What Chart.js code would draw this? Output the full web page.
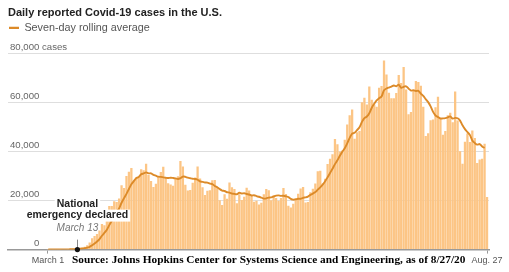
<!DOCTYPE html>
<html><head><meta charset="utf-8">
<script src="https://cdn.jsdelivr.net/npm/chart.js@4"></script>
<style>html,body{margin:0;padding:0;background:#fff}#wrap{width:509px;height:272px;position:relative}</style>
</head><body><div id="wrap"><canvas id="c" width="509" height="272"></canvas></div>
<script>
const chartTitle = 'Daily reported Covid-19 cases in the U.S.';
const legendLabel = 'Seven-day rolling average';
const sourceNote = 'Source: Johns Hopkins Center for Systems Science and Engineering, as of 8/27/20';
const startDay = [2020, 2, 1];

const dailyCases = [
  10,20,20,30,70,50,140,120,70,380,320,380,520,550,770,1130,1790,2900,4600,5600,6400,7800,10500,9900,12000,17800,17800,19800,19400,20900,26300,
  25200,30100,31800,33300,28200,29600,29600,32800,32400,35100,30500,28000,25600,26900,30100,31700,33900,29400,27100,26600,26100,28800,30000,36200,34000,26500,24100,24400,27300,29500,
  34000,29100,25500,22300,24000,24300,28300,28400,25600,20200,18200,22600,20800,27400,25500,24800,18900,22600,20300,21600,25300,24100,22100,19600,20000,18400,19100,22600,24800,24300,20200,
  22200,21100,20000,21100,25200,22700,17900,17200,18700,21000,22800,25000,25600,19200,19400,23400,24900,27000,32000,32200,27000,29000,35000,37100,39000,45200,43000,40100,40500,44900,
  51100,54900,57200,45300,48000,48500,60200,62100,59300,66600,61200,59300,58400,66100,66900,77300,71500,64100,61800,61800,64000,71300,68100,74600,65400,55300,56200,65100,68900,68500,67000,
  58400,46400,47500,52900,53200,58200,62500,54000,46900,48500,54900,55900,52000,64600,52800,40200,35100,44100,47400,44000,48700,45600,35400,36800,37100,43300,21500
];

const rollingAvg = [
  10,15,17,20,30,33,49,64,71,123,164,209,276,334,427,579,780,1149,1751,2477,3313,4317,5656,6814,8114,10000,11743,13657,15314,16800,19143,
  21029,22786,24786,26714,27971,29214,29686,30771,31100,31571,31171,31143,30571,30186,29800,29700,29529,29371,29243,29386,29271,29086,28843,29171,29829,29743,29386,29143,28929,28857,
  28543,27843,27700,27443,27386,26957,26786,25986,25486,24729,24143,23943,23443,23314,22900,22786,22600,23229,22900,23014,22714,22514,22129,22229,21857,21586,21229,20843,20943,21257,21343,
  21657,22043,22171,21957,22014,21786,21457,20743,20400,20543,20786,20757,21171,21357,21671,22343,22900,23500,24500,25443,26557,27929,29586,31329,33043,34929,36471,38343,39986,41400,
  43400,45671,47386,47714,48843,49986,52171,53743,54371,55714,57986,59600,61014,61857,62543,65114,65814,66229,66586,67071,66771,67400,66086,66529,66714,65786,64986,65143,64800,64857,63771,
  62771,61500,60257,58514,56271,54800,54157,53529,53600,53743,54029,54414,53529,53829,53657,52700,50786,49243,48029,46886,44614,43586,42900,43143,42143,41557,null
];

const yTickValues = [0, 20000, 40000, 60000, 80000];
const yTickLabels = ['0', '20,000', '40,000', '60,000', '80,000'];
const yUnit = 'cases';
const xTickIndex = [0, 179];
const xTickLabels = ['March 1', 'Aug. 27'];
const emergencyIndex = 12;
const emergencyLines = ['National', 'emergency declared'];
const emergencyDate = 'March 13';

const days = dailyCases.map((_, i) => new Date(Date.UTC(startDay[0], startDay[1], startDay[2] + i)).toISOString().slice(0, 10));

const barColor = '#fcc585';
const lineColor = '#dc8a28';
const sans = '"Liberation Sans", Arial, sans-serif';
Chart.defaults.font.family = sans;

const Y_TICK_FONT = 9.6;
const Y_LABEL_OFFSET = -6;

const annot = {
  id: 'annot',
  afterDraw(chart) {
    const {ctx, scales: {x, y}} = chart;
    ctx.save();
    ctx.font = Y_TICK_FONT + 'px ' + sans;
    const widest = Math.max(...yTickLabels.map(t => ctx.measureText(t).width));
    const xr = y.right + y.options.ticks.padding + widest;
    const topVal = yTickValues[yTickValues.length - 1];
    ctx.fillStyle = '#666';
    ctx.textAlign = 'left';
    ctx.textBaseline = 'middle';
    ctx.fillText(' ' + yUnit, xr, y.getPixelForValue(topVal) + Y_LABEL_OFFSET);

    const px = x.getPixelForValue(emergencyIndex);
    const py = y.getPixelForValue(0);
    ctx.strokeStyle = '#888';
    ctx.lineWidth = 1;
    ctx.beginPath();
    ctx.moveTo(Math.round(px) + 0.5, py - 10);
    ctx.lineTo(Math.round(px) + 0.5, py - 1);
    ctx.stroke();

    ctx.font = 'bold 10.5px ' + sans;
    ctx.textAlign = 'center';
    const centers = [py - 45.5, py - 34];
    emergencyLines.forEach((t, i) => {
      const w = ctx.measureText(t).width;
      ctx.fillStyle = '#fff';
      ctx.fillRect(px - w / 2 - 2, centers[i] - 6, w + 4, 12);
    });
    ctx.fillStyle = '#222';
    emergencyLines.forEach((t, i) => ctx.fillText(t, px, centers[i]));

    ctx.font = 'italic 10px ' + sans;
    ctx.fillStyle = '#777';
    ctx.fillText(emergencyDate, px, py - 21.5);

    ctx.fillStyle = '#111';
    ctx.beginPath();
    ctx.arc(px, py, 2.6, 0, Math.PI * 2);
    ctx.fill();

    ctx.font = 'bold 11.3px "Liberation Serif", "Times New Roman", serif';
    ctx.fillStyle = '#000';
    ctx.textAlign = 'left';
    ctx.fillText(sourceNote, 72, 260.5);
    ctx.restore();
  }
};

new Chart(document.getElementById('c'), {
  type: 'bar',
  data: {
    labels: days,
    datasets: [
      {
        type: 'line',
        label: legendLabel,
        data: rollingAvg.map((v, i) => ({x: i, y: v})),
        borderColor: lineColor,
        borderWidth: 1.9,
        pointRadius: 0,
        tension: 0.3,
        fill: false,
        order: 1,
        spanGaps: false
      },
      {
        type: 'bar',
        label: 'Daily cases',
        data: dailyCases.map((v, i) => ({x: i, y: v})),
        backgroundColor: barColor,
        borderWidth: 0,
        barPercentage: 0.93,
        categoryPercentage: 1,
        order: 2
      }
    ]
  },
  options: {
    responsive: false,
    animation: false,
    devicePixelRatio: 1,
    layout: {padding: {left: 8, right: 20, top: 6, bottom: 4}},
    plugins: {
      title: {
        display: true, text: chartTitle, align: 'start', color: '#222',
        font: {size: 11, weight: 'bold', lineHeight: 1.2},
        padding: {top: 0.4, bottom: 1.9}
      },
      legend: {
        display: true, align: 'start',
        labels: {
          usePointStyle: true, pointStyleWidth: 10, padding: 1,
          font: {size: 10.8}, color: '#555',
          generateLabels: () => [{
            text: legendLabel, strokeStyle: lineColor, fillStyle: lineColor,
            lineWidth: 2.4, pointStyle: 'line', hidden: false, datasetIndex: 0, fontColor: '#555'
          }]
        }
      },
      tooltip: {enabled: false}
    },
    scales: {
      x: {
        type: 'linear', min: -16.3, max: 179.8, offset: false,
        grid: {display: true, drawOnChartArea: false, drawTicks: true, tickLength: 4, color: '#999', offset: false},
        border: {display: true, color: '#999', width: 1.5},
        afterBuildTicks: s => { s.ticks = xTickIndex.map(v => ({value: v})); },
        ticks: {
          padding: 1.8, autoSkip: false, maxRotation: 0, color: '#555', font: {size: 9},
          callback: v => xTickLabels[xTickIndex.indexOf(v)]
        }
      },
      y: {
        min: 0, max: 84300, z: 1,
        afterBuildTicks: s => { s.ticks = yTickValues.map(v => ({value: v})); },
        afterFit: s => { s.width = 0; },
        border: {display: false},
        grid: {
          drawTicks: false, lineWidth: 1,
          color: c => (c.tick && c.tick.value === 0) ? 'rgba(0,0,0,0)' : 'rgba(0,0,0,0.13)'
        },
        ticks: {
          mirror: true, crossAlign: 'far', padding: 2, labelOffset: Y_LABEL_OFFSET,
          color: '#666', font: {size: Y_TICK_FONT},
          callback: v => yTickLabels[yTickValues.indexOf(v)]
        }
      }
    }
  },
  plugins: [annot]
});
</script>
</body></html>
